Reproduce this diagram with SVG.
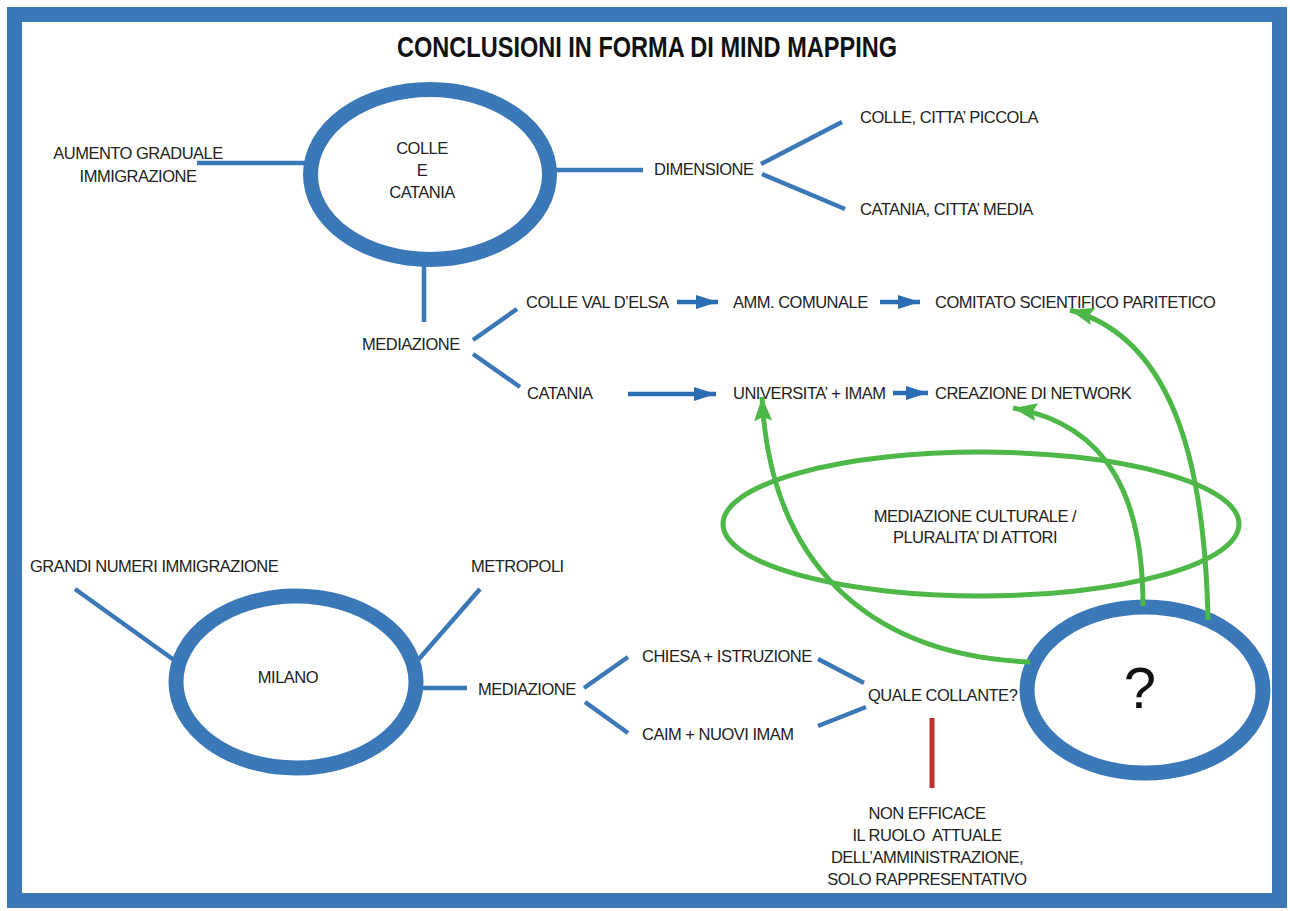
<svg xmlns="http://www.w3.org/2000/svg" width="1290" height="911" viewBox="0 0 1290 911">
<style>
.t{font-family:"Liberation Sans",Arial,sans-serif;font-size:16.5px;letter-spacing:-0.5px;fill:#222}
.c{text-anchor:middle}
.ln{stroke:#3b78b8;stroke-width:4.5;fill:none}
.ring{stroke:#3b78b8;stroke-width:15;fill:#fff}
.arr{stroke:#2a6db3;stroke-width:4.5;fill:none}
.g{stroke:#4db848;stroke-width:5;fill:none}
</style>
<defs>
<marker id="ab" markerUnits="userSpaceOnUse" markerWidth="24" markerHeight="16" refX="22" refY="7" orient="auto"><path d="M0,0 L22,7 L0,14 Z" fill="#2a6db3"/></marker>
<marker id="ag" markerUnits="userSpaceOnUse" markerWidth="26" markerHeight="20" refX="24" refY="9" orient="auto"><path d="M0,0 L24,9 L0,18 L4,9 Z" fill="#4db848"/></marker>
</defs>
<rect x="0" y="0" width="1290" height="911" fill="#fff"/>
<rect x="14.5" y="14.5" width="1265" height="886" fill="#fff" stroke="#3b78b8" stroke-width="15"/>
<text x="647" y="57" font-family="Liberation Sans,Arial,sans-serif" font-weight="bold" font-size="30" text-anchor="middle" textLength="500" lengthAdjust="spacingAndGlyphs" fill="#111">CONCLUSIONI IN FORMA DI MIND MAPPING</text>

<g id="connectors">
<line class="ln" x1="197" y1="163" x2="306" y2="163"/>
<line class="ln" x1="554" y1="170" x2="643" y2="170"/>
<line class="ln" x1="761" y1="164" x2="842" y2="122"/>
<line class="ln" x1="762" y1="174" x2="845" y2="209"/>
<line class="ln" x1="424" y1="265" x2="424" y2="322"/>
<line class="ln" x1="473" y1="340" x2="517" y2="309"/>
<line class="ln" x1="473" y1="354" x2="520" y2="387"/>
<line class="arr" x1="677" y1="302" x2="718" y2="302" marker-end="url(#ab)"/>
<line class="arr" x1="880" y1="302" x2="920" y2="302" marker-end="url(#ab)"/>
<line class="arr" x1="628" y1="394" x2="716" y2="394" marker-end="url(#ab)"/>
<line class="arr" x1="893" y1="393" x2="928" y2="393" marker-end="url(#ab)"/>
<line class="ln" x1="75" y1="589" x2="174" y2="660"/>
<line class="ln" x1="480" y1="589" x2="418" y2="660"/>
<line class="ln" x1="420" y1="688" x2="467" y2="688"/>
<line class="ln" x1="584" y1="688" x2="628" y2="657"/>
<line class="ln" x1="585" y1="702" x2="628" y2="733"/>
<line class="ln" x1="818" y1="659" x2="864" y2="683"/>
<line class="ln" x1="818" y1="726" x2="866" y2="707"/>
<line x1="932" y1="718" x2="932" y2="788" stroke="#c0302a" stroke-width="5"/>
</g>

<g id="n-colle"><ellipse class="ring" cx="430" cy="174.5" rx="119.5" ry="85"/>
<text class="t c" x="422" y="154">COLLE</text><text class="t c" x="422" y="176">E</text><text class="t c" x="422" y="198">CATANIA</text></g>
<g id="n-aumento"><text class="t c" x="138" y="159">AUMENTO GRADUALE</text><text class="t c" x="138" y="182">IMMIGRAZIONE</text></g>
<g id="n-dimensione"><text class="t" x="654" y="175">DIMENSIONE</text></g>
<g id="n-piccola"><text class="t" x="860" y="123">COLLE, CITTA’ PICCOLA</text></g>
<g id="n-media"><text class="t" x="860" y="215">CATANIA, CITTA’ MEDIA</text></g>
<g id="n-med1"><text class="t" x="362" y="350">MEDIAZIONE</text></g>
<g id="n-colleval"><text class="t" x="526" y="308">COLLE VAL D’ELSA</text></g>
<g id="n-amm"><text class="t" x="733" y="308">AMM. COMUNALE</text></g>
<g id="n-comitato"><text class="t" x="935" y="308">COMITATO SCIENTIFICO PARITETICO</text></g>
<g id="n-catania"><text class="t" x="527" y="399">CATANIA</text></g>
<g id="n-univ"><text class="t" x="733" y="399">UNIVERSITA’ + IMAM</text></g>
<g id="n-network"><text class="t" x="935" y="399">CREAZIONE DI NETWORK</text></g>

<g id="n-milano"><ellipse class="ring" cx="296" cy="682" rx="120" ry="86"/>
<text class="t c" x="288" y="683">MILANO</text></g>
<g id="n-grandi"><text class="t" x="30" y="572">GRANDI NUMERI IMMIGRAZIONE</text></g>
<g id="n-metropoli"><text class="t" x="471" y="572">METROPOLI</text></g>
<g id="n-med2"><text class="t" x="478" y="695">MEDIAZIONE</text></g>
<g id="n-chiesa"><text class="t" x="642" y="662">CHIESA + ISTRUZIONE</text></g>
<g id="n-caim"><text class="t" x="642" y="740">CAIM + NUOVI IMAM</text></g>
<g id="n-quale"><text class="t" x="868" y="701">QUALE COLLANTE?</text></g>
<g id="n-non"><text class="t c" x="927" y="819">NON EFFICACE</text><text class="t c" x="927" y="841">IL RUOLO&#160; ATTUALE</text><text class="t c" x="927" y="863">DELL’AMMINISTRAZIONE,</text><text class="t c" x="927" y="885">SOLO RAPPRESENTATIVO</text></g>

<g id="n-question"><ellipse class="ring" cx="1145" cy="690" rx="118" ry="83"/>
<text x="1140" y="708" font-family="Liberation Sans,Arial,sans-serif" font-size="58" text-anchor="middle" fill="#111">?</text></g>

<g id="n-culturale"><ellipse class="g" cx="981" cy="524" rx="258" ry="72"/>
<text class="t c" x="975" y="522">MEDIAZIONE CULTURALE /</text><text class="t c" x="975" y="543">PLURALITA’ DI ATTORI</text></g>

<g id="green-connectors">
<path class="g" d="M1030,662 C865,655 770,560 762,397" marker-end="url(#ag)"/>
<path class="g" d="M1143,606 C1143,500 1110,425 1013,408" marker-end="url(#ag)"/>
<path class="g" d="M1208,620 C1205,480 1180,340 1070,310" marker-end="url(#ag)"/>
</g>
</svg>
